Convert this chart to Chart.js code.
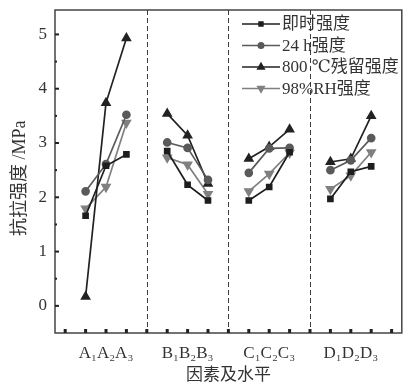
<!DOCTYPE html>
<html>
<head>
<meta charset="utf-8">
<script src="https://cdn.jsdelivr.net/npm/chart.js@4"></script>
<style>
  html, body { margin: 0; padding: 0; background: #fff; }
  #wrap { width: 408px; height: 386px; }
</style>
</head>
<body>
<div id="wrap"><canvas id="chart" width="408" height="386"></canvas></div>
<script>
// factors and levels
const groups = ['A', 'B', 'C', 'D'];
const subs = ['\u2081', '\u2082', '\u2083'];

// tensile strength, MPa (A1..A3, B1..B3, C1..C3, D1..D3)
const instant = [1.66, 2.58, 2.79, 2.85, 2.23, 1.94, 1.94, 2.19, 2.83, 1.97, 2.47, 2.57];
const h24 = [2.11, 2.61, 3.52, 3.01, 2.91, 2.32, 2.45, 2.90, 2.91, 2.50, 2.68, 3.09];
const after800 = [0.17, 3.74, 4.93, 3.54, 3.14, 2.25, 2.71, 2.93, 3.25, 2.65, 2.71, 3.50];
const rh98 = [1.79, 2.19, 3.37, 2.73, 2.60, 2.06, 2.11, 2.43, 2.82, 2.15, 2.40, 2.83];

const seriesNames = ['即时强度', '24 h强度', '800 \u2103残留强度', '98%RH强度'];
const yTicks = [0, 1, 2, 3, 4, 5];
const yTitle = '抗拉强度 /MPa';

const serif = '"Liberation Serif", "DejaVu Serif", "Noto Sans CJK SC", serif';
const ink = '#333';

// slots: 0, [1 2 3], 4, [5 6 7], 8, ... 16 ; separators at 4, 8, 12
const labels = [];
for (let i = 0; i <= 16; i++) {
    const g = Math.floor(i / 4);
    if (i % 4 === 2 && g < groups.length) {
        labels.push(subs.map(s => groups[g] + s).join(''));
    } else {
        labels.push('');
    }
}

function spread(values) {
    const out = new Array(17).fill(null);
    values.forEach((v, k) => {
        const g = Math.floor(k / 3);
        out[g * 4 + 1 + (k % 3)] = v;
    });
    return out;
}

const styles = [
    { color: '#1e1e1e', point: 'rect', rot: 0, r: 3.5 },
    { color: '#5a5a5a', point: 'circle', rot: 0, r: 3.5 },
    { color: '#222222', point: 'triangle', rot: 0, r: 4.5 },
    { color: '#808080', point: 'triangle', rot: 180, r: 4.5 }
];
const values = [instant, h24, after800, rh98];

const datasets = values.map((v, i) => ({
    label: seriesNames[i],
    data: spread(v),
    borderColor: styles[i].color,
    backgroundColor: styles[i].color,
    borderWidth: 1.7,
    pointStyle: styles[i].point,
    pointRotation: styles[i].rot,
    pointRadius: styles[i].r,
    pointHoverRadius: styles[i].r,
    spanGaps: false,
    tension: 0
}));

// frame, inward ticks, dashed separators, y title, legend
const decor = {
    id: 'decor',
    afterDatasetsDraw(chart) {
        const ctx = chart.ctx;
        const a = chart.chartArea;
        const x = chart.scales.x;
        const y = chart.scales.y;
        ctx.save();

        // separators
        ctx.strokeStyle = '#3a3a3a';
        ctx.lineWidth = 1;
        ctx.setLineDash([5, 3]);
        [4, 8, 12].forEach(i => {
            const px = Math.round(x.getPixelForValue(i)) + 0.5;
            ctx.beginPath();
            ctx.moveTo(px, a.top);
            ctx.lineTo(px, a.bottom);
            ctx.stroke();
        });
        ctx.setLineDash([]);

        // frame
        ctx.strokeStyle = '#444';
        ctx.lineWidth = 1.5;
        ctx.strokeRect(a.left, a.top, a.right - a.left, a.bottom - a.top);

        // x ticks
        ctx.fillStyle = '#222';
        for (let i = 0; i <= 16; i++) {
            const px = x.getPixelForValue(i);
            ctx.fillRect(px - 1.5, a.bottom - 4, 3, 4);
        }
        // y ticks
        for (let v = 0; v <= 5; v += 0.5) {
            const py = y.getPixelForValue(v);
            const len = Number.isInteger(v) ? 4 : 2;
            ctx.fillRect(a.left, py - 1, len, 2);
        }

        // y title, sits a bit below the middle like the original
        ctx.save();
        ctx.translate(20, y.getPixelForValue(2.35));
        ctx.rotate(-Math.PI / 2);
        ctx.font = '18px ' + serif;
        ctx.textAlign = 'center';
        ctx.textBaseline = 'middle';
        ctx.fillStyle = ink;
        ctx.fillText(yTitle, 0, 0);
        ctx.restore();

        // legend
        const lx = 242, ly = 24, step = 21.5, len = 38;
        ctx.font = '17px ' + serif;
        ctx.textBaseline = 'middle';
        chart.data.datasets.forEach((ds, i) => {
            const yy = ly + i * step;
            ctx.strokeStyle = ds.borderColor;
            ctx.lineWidth = 1.6;
            ctx.beginPath();
            ctx.moveTo(lx, yy);
            ctx.lineTo(lx + len, yy);
            ctx.stroke();
            Chart.helpers.drawPoint(ctx, {
                pointStyle: ds.pointStyle,
                rotation: ds.pointRotation,
                radius: ds.pointRadius - 0.8,
                borderWidth: 1
            }, lx + len / 2, yy);
            ctx.fillStyle = ds.borderColor;
            ctx.strokeStyle = ds.borderColor;
            ctx.fill();
            ctx.fillStyle = ink;
            ctx.fillText(ds.label, lx + len + 2, yy + 1);
        });
        ctx.restore();
    }
};

new Chart(document.getElementById('chart'), {
    type: 'line',
    data: { labels: labels, datasets: datasets },
    options: {
        responsive: false,
        animation: false,
        layout: { padding: { top: 10, right: 2, left: 0, bottom: 0 } },
        plugins: {
            legend: { display: false },
            tooltip: { enabled: false }
        },
        scales: {
            x: {
                type: 'category',
                offset: true,
                grid: { display: false, drawTicks: false },
                border: { display: false },
                ticks: {
                    autoSkip: false,
                    maxRotation: 0,
                    padding: 10,
                    color: ink,
                    font: { family: serif, size: 17 }
                },
                title: {
                    display: true,
                    text: '因素及水平',
                    color: ink,
                    padding: { top: 0, bottom: 0 },
                    font: { family: serif, size: 17 }
                },
                afterFit(scale) {
                    scale.height = 53;
                    scale.paddingLeft = 0;
                    scale.paddingRight = 0;
                }
            },
            y: {
                min: -0.5,
                max: 5.45,
                afterBuildTicks(scale) { scale.ticks = yTicks.map(v => ({ value: v })); },
                grid: { display: false, drawTicks: false },
                border: { display: false },
                ticks: {
                    padding: 8,
                    color: ink,
                    font: { family: serif, size: 17 }
                },
                afterFit(scale) {
                    scale.width = 55;
                    scale.paddingTop = 0;
                    scale.paddingBottom = 0;
                }
            }
        }
    },
    plugins: [decor]
});
</script>
</body>
</html>
